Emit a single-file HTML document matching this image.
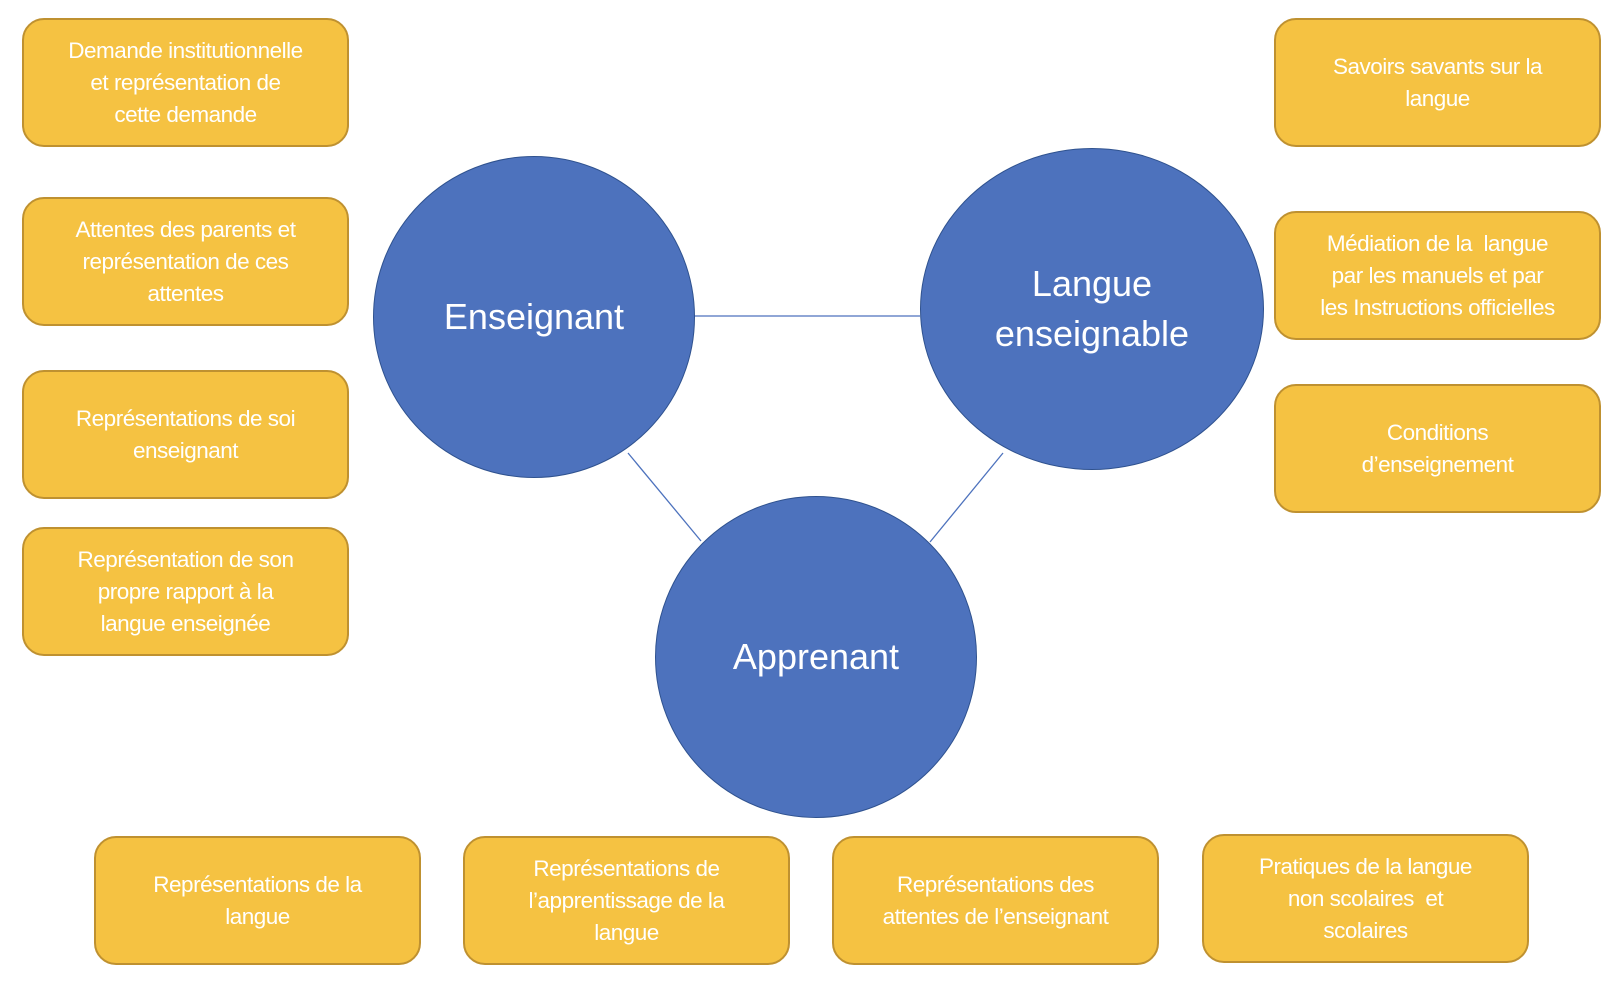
<!DOCTYPE html>
<html><head><meta charset="utf-8"><style>
body{margin:0;width:1622px;height:988px;background:#fff;position:relative;overflow:hidden;font-family:"Liberation Sans",sans-serif;}
.b{position:absolute;width:323px;height:125px;background:#F5C242;border:2px solid #BF9130;border-radius:22px;display:flex;align-items:center;justify-content:center;text-align:center;color:#fff;font-size:22.5px;line-height:32px;letter-spacing:-0.5px;box-sizing:content-box;}
.c{position:absolute;background:#4D72BD;border:1.5px solid #2F528F;border-radius:50%;display:flex;align-items:center;justify-content:center;text-align:center;color:#fff;font-size:36px;line-height:50px;}
svg{position:absolute;left:0;top:0;}
</style></head><body>
<svg width="1622" height="988"><g stroke="#4D72BD" stroke-width="1.3">
<line x1="693" y1="316" x2="920" y2="316"/>
<line x1="628" y1="453" x2="701" y2="541"/>
<line x1="1003" y1="453" x2="930" y2="542"/></g></svg>
<div class="b" style="left:22px;top:18px">Demande institutionnelle<br>et représentation de<br>cette demande</div>
<div class="b" style="left:22px;top:197px">Attentes des parents et<br>représentation de ces<br>attentes</div>
<div class="b" style="left:22px;top:370px">Représentations de soi<br>enseignant</div>
<div class="b" style="left:22px;top:527px">Représentation de son<br>propre rapport à la<br>langue enseignée</div>
<div class="b" style="left:1274px;top:18px">Savoirs savants sur la<br>langue</div>
<div class="b" style="left:1274px;top:211px">Médiation de la&nbsp; langue<br>par les manuels et par<br>les Instructions officielles</div>
<div class="b" style="left:1274px;top:384px">Conditions<br>d’enseignement</div>
<div class="b" style="left:94px;top:836px">Représentations de la<br>langue</div>
<div class="b" style="left:463px;top:836px">Représentations de<br>l’apprentissage de la<br>langue</div>
<div class="b" style="left:832px;top:836px">Représentations des<br>attentes de l’enseignant</div>
<div class="b" style="left:1202px;top:834px">Pratiques de la langue<br>non scolaires&nbsp; et<br>scolaires</div>
<div class="c" style="left:373px;top:156px;width:320px;height:320px">Enseignant</div>
<div class="c" style="left:920px;top:148px;width:342px;height:320px">Langue<br>enseignable</div>
<div class="c" style="left:655px;top:496px;width:320px;height:320px">Apprenant</div>
</body></html>
